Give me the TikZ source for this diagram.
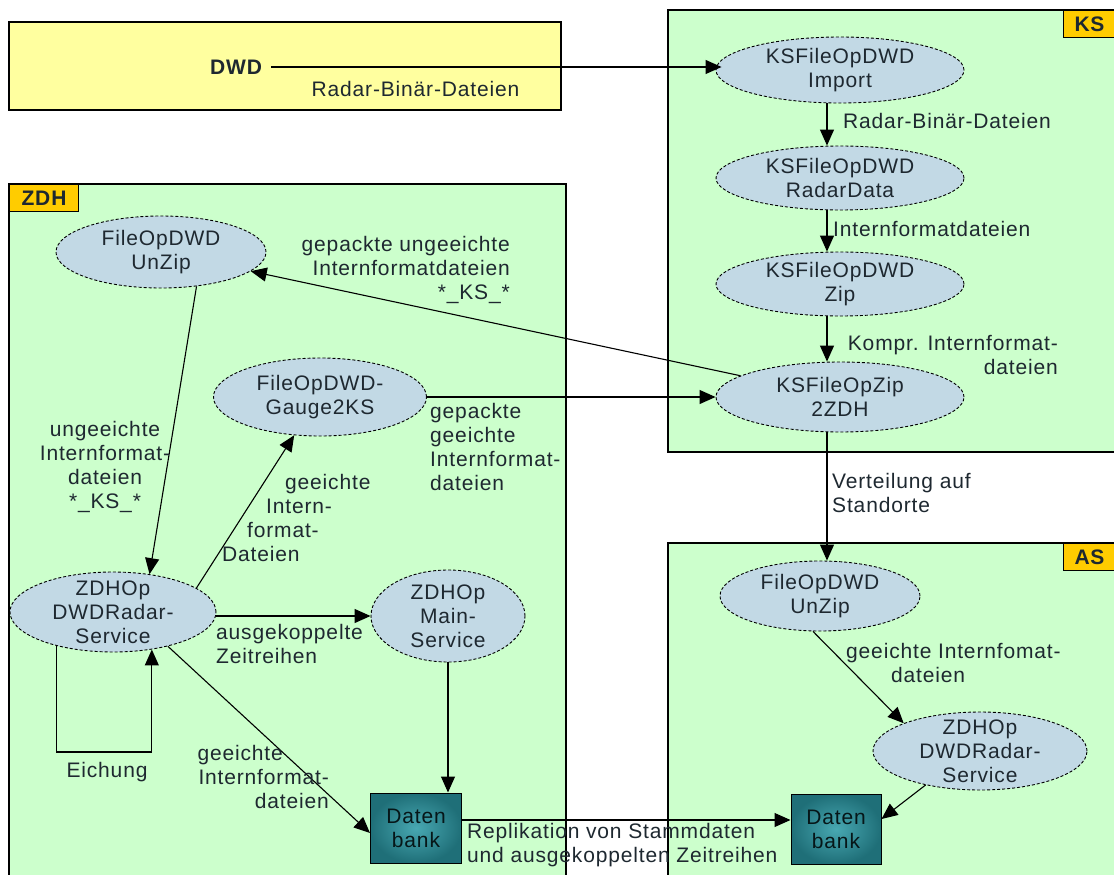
\documentclass[tikz,border=0pt]{standalone}
\usepackage{fontspec}
\setmainfont{Liberation Sans}[LetterSpace=4]
\usetikzlibrary{arrows.meta,shapes.geometric}

\definecolor{dwdyellow}{HTML}{FFFF9F}
\definecolor{sitegreen}{HTML}{CCFFCC}
\definecolor{tabgold}{HTML}{FFCC00}
\definecolor{procblue}{HTML}{C2D9E5}
\definecolor{dbouter}{HTML}{1F6F78}
\definecolor{dbinner}{HTML}{48A8B2}
\definecolor{inktext}{HTML}{1E2830}

\newcommand{\figfont}{\fontsize{21pt}{24pt}\selectfont}

\tikzset{
  site/.style={draw=black, line width=1.2pt, fill=sitegreen},
  sitetag/.style={draw=black, line width=1pt, fill=tabgold, font=\figfont\bfseries, inner sep=0pt, minimum height=27pt, anchor=north west},
  proc/.style={ellipse, draw=black, densely dashed, line width=0.9pt, fill=procblue, align=center, inner sep=-8pt},
  dbbox/.style={rectangle, draw=black, line width=1pt, inner color=dbinner, outer color=dbouter, minimum width=91pt, minimum height=70pt, align=center, text=black!80!dbouter},
  flow/.style={line width=1.1pt, -{Triangle[length=16pt,width=14pt]}},
  lbl/.style={inner sep=0pt}
}

\begin{document}
\begin{tikzpicture}[x=1pt, y=-1pt, font=\figfont, text=inktext]
    \useasboundingbox (0,0) rectangle (1114,875);
    \clip (0,0) rectangle (1114,875);

    % Standorte
    \draw[line width=1.2pt, fill=dwdyellow] (9,22) rectangle (561,110);
    \draw[site] (668,10) rectangle (1120,452);
    \draw[site] (9,184) rectangle (566,880);
    \draw[site] (668,543) rectangle (1120,880);
    \node[sitetag, minimum width=52pt] (tagks) at (1063,10) {KS};
    \node[sitetag, minimum width=69pt] (tagzdh) at (9,184) {ZDH};
    \node[sitetag, minimum width=52pt] (tagas) at (1063,543) {AS};

    % KS
    \node[font=\figfont\bfseries] (dwd) at (236,67) {DWD};
    \node[proc, minimum width=248pt, minimum height=66pt] (ksimp) at (840,70) {KSFileOpDWD\\Import};
    \node[proc, minimum width=248pt, minimum height=64pt] (ksrad) at (840,178) {KSFileOpDWD\\RadarData};
    \node[proc, minimum width=248pt, minimum height=64pt] (kszip) at (840,284) {KSFileOpDWD\\Zip};
    \node[proc, minimum width=248pt, minimum height=70pt] (kszdh) at (840,397) {KSFileOpZip\\2ZDH};

    % ZDH
    \node[proc, minimum width=210pt, minimum height=72pt] (zunz) at (161,252) {FileOpDWD\\UnZip};
    \node[proc, minimum width=213pt, minimum height=78pt] (gauge) at (320,397) {FileOpDWD-\\Gauge2KS};
    \node[proc, minimum width=206pt, minimum height=80pt] (zradar) at (113,612) {ZDHOp\\DWDRadar-\\Service};
    \node[proc, minimum width=154pt, minimum height=92pt] (zmain) at (448,616) {ZDHOp\\Main-\\Service};
    \node[dbbox] (zdb) at (416,828) {Daten\\bank};
    \coordinate (eich) at (104,752);

    % AS
    \node[proc, minimum width=200pt, minimum height=70pt] (asunz) at (820,596) {FileOpDWD\\UnZip};
    \node[proc, minimum width=214pt, minimum height=78pt] (asradar) at (980,751) {ZDHOp\\DWDRadar-\\Service};
    \node[dbbox, minimum width=90pt] (asdb) at (836,829) {Daten\\bank};

    % Datenfluss
    \draw[flow] ([xshift=6pt]dwd.east) -- ([xshift=6pt]dwd.east -| ksimp.west)
        node[lbl, pos=0.32, below=14pt] (lraw) {Radar-Binär-Dateien};
    \draw[flow] ([xshift=-13pt]ksimp.south) -- ([xshift=-13pt]ksrad.north);
    \draw[flow] ([xshift=-13pt]ksrad.south) -- ([xshift=-13pt]kszip.north);
    \draw[flow] ([xshift=-13pt]kszip.south) -- ([xshift=-13pt]kszdh.north);
    \draw[flow] ([xshift=-13pt]kszdh.south) -- ([xshift=-13pt]kszdh.south |- asunz.north);
    \draw[flow] (kszdh) -- (zunz);
    \draw[flow] (gauge.east) -- (gauge.east -| kszdh.west);
    \draw[flow] (zunz.-44) -- (zradar.46);
    \draw[flow] (zradar.16) -- (gauge.236);
    \draw[flow] (zradar.211) |- (eich) -| (zradar.316);
    \draw[flow] ([yshift=-4pt]zradar.east) -- (zmain.west);
    \draw[flow] (zmain.south) -- (zmain.south |- zdb.north);
    \draw[flow] (zradar.-32) -- ([yshift=-5pt]zdb.west);
    \draw[flow] ([yshift=8pt]zdb.east) -- ([yshift=8pt]zdb.east -| asdb.west);
    \draw[flow] ([xshift=-7pt]asunz.south) -- (asradar.160);
    \draw[flow] (asradar.212) -- ([yshift=10pt]asdb.east);

    % Beschriftungen
    \node[lbl, anchor=west] (lks1) at (843,121) {Radar-Binär-Dateien};
    \node[lbl, anchor=west] (lks2) at (833,229) {Internformatdateien};
    \node[lbl, anchor=east, align=right] (lks3) at (1058,355) {Kompr. Internformat-\\dateien};
    \node[lbl, anchor=west, align=left] (lvert) at (832,493) {Verteilung auf\\Standorte};
    \node[lbl, anchor=east, align=right] (lzip) at (510,270) {gepackte ungeeichte\\Internformatdateien\\*\_KS\_*};
    \node[lbl, align=center] (lunz) at (105,467) {ungeeichte\\Internformat-\\dateien\\*\_KS\_*};
    \node[lbl, anchor=west, align=left] (lgauge) at (430,447) {gepackte\\geeichte\\Internformat-\\dateien};
    \node[lbl, anchor=west, align=left] (lcal) at (222,518)
        {\hspace*{63pt}geeichte\\\hspace*{44pt}Intern-\\\hspace*{25pt}format-\\Dateien};
    \node[lbl, anchor=west, align=left] (lout) at (216,644) {ausgekoppelte\\Zeitreihen};
    \node[lbl] (leich) at (107,772) {Eichung};
    \node[lbl, anchor=east, align=right] (ldb) at (329,777)
        {geeichte\hspace*{46pt}\\Internformat-\hspace*{25pt}\\dateien};
    \node[lbl, anchor=north west, align=left] (lrep) at (467,823) {Replikation von Stammdaten\\und ausgekoppelten Zeitreihen};
    \node[lbl, anchor=west, align=left] (las) at (846,663) {geeichte Internfomat-\\\hspace*{45pt}dateien};
\end{tikzpicture}
\end{document}
